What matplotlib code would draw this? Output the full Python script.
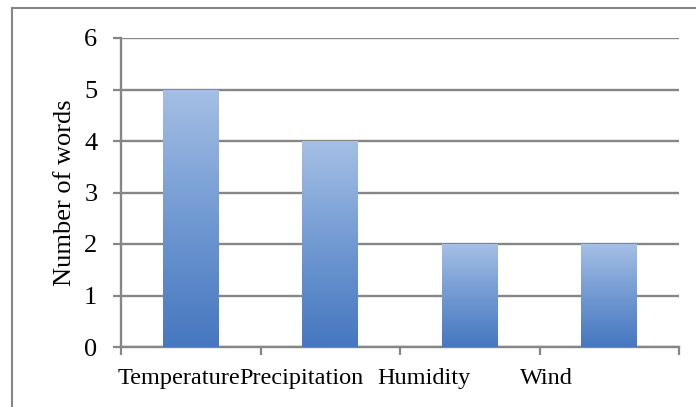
import matplotlib
matplotlib.use("Agg")
import matplotlib.pyplot as plt
import numpy as np
from matplotlib.colors import LinearSegmentedColormap
from matplotlib.lines import Line2D

# data
categories = ["Temperature", "Precipitation", "Humidity", "Wind"]
word_counts = [5, 4, 2, 2]
yticks = [0, 1, 2, 3, 4, 5, 6]

plt.rcParams['font.family'] = ['Liberation Serif', 'DejaVu Serif']

fig = plt.figure(figsize=(6.96, 4.07), dpi=100)
ax = fig.add_axes([121 / 696, 1 - 347 / 407, 558 / 696, 309 / 407])

grey = '#868686'
x = np.arange(len(categories))
bars = ax.bar(x, word_counts, width=0.4, color='none', zorder=3)

# gradient fill, light at top -> darker at bottom
cmap = LinearSegmentedColormap.from_list('xl', ['#4677c0', '#7199d2', '#a5bfe5'])
grad = np.linspace(0, 1, 256).reshape(-1, 1)
for b in bars:
    x0, w, h = b.get_x(), b.get_width(), b.get_height()
    im = ax.imshow(grad, cmap=cmap, aspect='auto', origin='lower',
                   extent=[x0, x0 + w, 0, h], zorder=3)
    im.set_clip_path(b)

ax.set_xlim(-0.5, len(categories) - 0.5)
ax.set_ylim(0, 6)
ax.set_yticks(yticks)
ax.yaxis.grid(True, color=grey, linewidth=1.7, zorder=0)
ax.set_axisbelow(True)

for s in ['top', 'right']:
    ax.spines[s].set_visible(False)
for s in ['left', 'bottom']:
    ax.spines[s].set_color(grey)
    ax.spines[s].set_linewidth(1.7)

# category boundary ticks, labels placed separately
ax.set_xticks(np.arange(len(categories) + 1) - 0.5)
ax.set_xticklabels([])
ax.tick_params(axis='x', length=6, width=1.6, color=grey, direction='out')
ax.tick_params(axis='y', length=6, width=1.6, color=grey, direction='out',
               labelsize=19, pad=11)

label_pos = [-0.084, 0.794, 1.668, 2.55]
for lx, name in zip(label_pos, categories):
    ax.text(lx, -0.62, name, ha='center', va='center', fontsize=17.5,
            transform=ax.transData, clip_on=False)

ax.set_ylabel('Number of words', fontsize=19, labelpad=6)

# outer chart border (runs off the right/bottom of the image)
fig.add_artist(Line2D([12 / 696, 12 / 696], [0, 1 - 8 / 407],
                      color=grey, linewidth=1.5, transform=fig.transFigure))
fig.add_artist(Line2D([12 / 696, 1], [1 - 8 / 407, 1 - 8 / 407],
                      color=grey, linewidth=1.5, transform=fig.transFigure))

fig.savefig('out.png', dpi=100)
